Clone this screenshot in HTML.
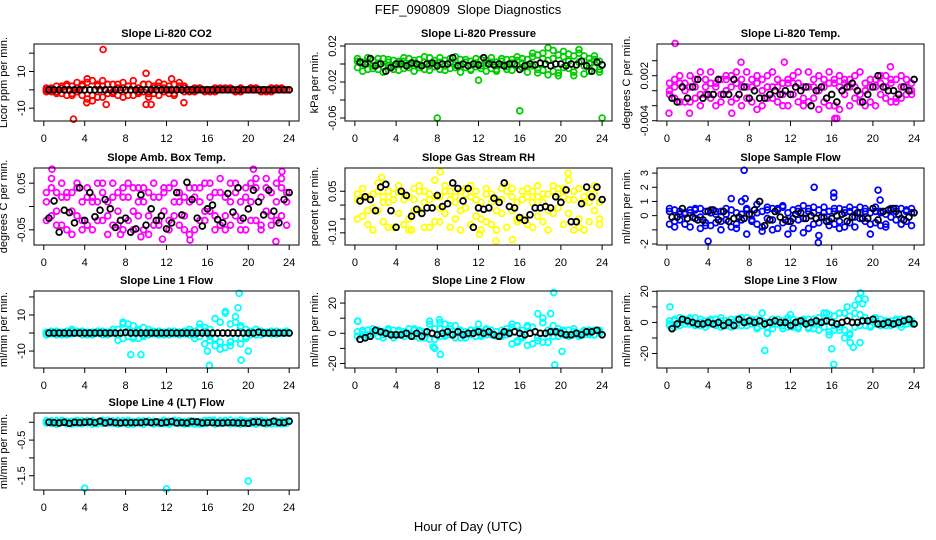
<!DOCTYPE html>
<html><head><meta charset="utf-8"><style>
html,body{margin:0;padding:0;background:#fff;}
svg{display:block;font-family:"Liberation Sans",Arial,sans-serif;}
</style></head><body>
<svg id="chart" width="936" height="540" viewBox="0 0 936 540" xmlns="http://www.w3.org/2000/svg">
<rect x="0" y="0" width="936" height="540" fill="#fff"/>
<text x="468" y="14" font-size="13" text-anchor="middle">FEF_090809&#160; Slope Diagnostics</text>
<text x="468" y="531" font-size="13" text-anchor="middle">Hour of Day (UTC)</text>
</svg>
<script>
const colHours=[0.25,0.75,1.25,1.75,2.25,2.75,3.25,3.75,4.25,4.75,5.25,5.75,6.25,6.75,7.25,7.75,8.25,8.75,9.25,9.75,10.25,10.75,11.25,11.75,12.25,12.75,13.25,13.75,14.25,14.75,15.25,15.75,16.25,16.75,17.25,17.75,18.25,18.75,19.25,19.75,20.25,20.75,21.25,21.75,22.25,22.75,23.25,23.75];
const blackHours=[0.5,1,1.5,2,2.5,3,3.5,4,4.5,5,5.5,6,6.5,7,7.5,8,8.5,9,9.5,10,10.5,11,11.5,12,12.5,13,13.5,14,14.5,15,15.5,16,16.5,17,17.5,18,18.5,19,19.5,20,20.5,21,21.5,22,22.5,23,23.5,24];
const xTicks=[0,4,8,12,16,20,24];

const co2C1=[0,1,-1,2,3,-2,1,-3,4,5,-4,2,3,-2,1,4,-3,2,1,-1,3,-2,4,1,-2,3,2,-1,0,1,0,-1,0,1,0,0,1,-1,0,0,1,0,-1,0,1,0,0,0];
const co2C2=[1,-1,2,-2,-3,2,4,3,-5,-6,3,-4,-2,3,-3,-4,2,-3,-2,3,-4,2,-3,-1,2,-2,1,2,-1,0,1,0,-1,0,1,0,0,-1,1,0,0,1,0,-1,0,1,0,0];
const co2C3=[-1,0,-2,1,2,-3,-1,2,6,-3,2,5,-2,-1,3,1,2,5,-1,3,-2,1,2,3,0,-3,4,1,0,-1,1,0,0,-1,0,1,0,0,-1,0,1,0,0,0,-1,0,1,0];
const co2K=[0,0,0,0,0,0,0,0,0,0,0,0,0,0,0,0,0,0,0,0,0,0,0,0,0,0,0,0,0,0,0,0,0,0,0,0,0,0,0,0,0,0,0,0,0,0,0,0];
const co2OutH=[5.8,2.9,10,10,10.5,13.7,4.2,6.1,12.5];
const co2OutV=[22,-16,9,-8,-8,-7,-7,-8,6];

const prC1=[-.004,.002,-.006,.004,.001,-.003,.005,-.002,.003,-.005,.006,.001,-.004,.002,.007,-.003,-.006,.004,.002,-.001,.005,-.004,.003,.006,-.002,.004,-.005,.002,.006,-.003,.001,.004,-.004,.005,.008,-.006,.012,.004,-.008,.010,.014,-.005,.009,.016,-.002,.006,-.004,.003];
const prC2=[.003,-.008,.002,-.005,.006,-.009,-.002,.004,-.007,.003,-.001,-.008,.005,-.006,-.002,.004,.002,-.007,.006,-.004,-.009,.002,-.006,-.003,.005,-.008,.002,-.006,-.001,.005,-.007,-.002,.006,-.009,-.002,.010,-.007,-.012,.006,-.010,-.004,.011,-.013,.002,.009,-.008,.005,-.006];
const prC3=[.006,.001,.007,-.002,-.006,.006,.002,-.006,.001,.007,-.004,.004,-.001,.008,-.007,.001,.007,-.002,-.005,.008,-.002,.005,-.007,.001,-.005,.001,.007,-.008,.003,-.006,.005,.008,.001,-.002,.012,-.010,.006,.018,.015,-.013,.008,.003,-.009,.012,-.011,.001,.009,-.009];
const prK=[.002,0,.006,-.002,0,-.008,-.004,0,0,-.002,.001,0,-.002,0,.001,-.002,0,0,.007,-.002,0,-.002,0,-.001,.007,0,-.001,0,-.002,0,0,-.006,-.002,0,-.001,.001,0,-.002,0,0,-.002,0,-.001,.003,-.002,-.008,.002,-.001];
const prOutH=[8,16,24,12];
const prOutV=[-.06,-.052,-.06,-.018];

const tpC1=[.001,-.001,.002,0,-.0015,.0005,.0025,-.0005,.001,-.002,.0015,0,.002,-.001,.0005,.0025,-.0015,.001,0,.002,-.001,.0015,-.0005,.001,.002,-.0015,.0005,.0025,-.001,0,.0015,-.002,.001,.002,-.0005,.0015,-.001,.0025,0,-.0015,.0015,-.0005,.002,.001,-.001,.0005,.0015,0];
const tpC2=[-.0005,.0015,-.0015,.001,.0005,-.001,-.0005,.0015,-.001,.0005,-.0005,.0015,-.0015,.001,-.002,.0005,.0015,-.0025,.0015,-.001,.0005,-.0015,.001,-.002,-.0005,.001,-.002,.0005,.0015,-.0025,.0005,.001,-.002,.0005,.0015,-.002,.0005,-.0005,.001,.0015,-.002,.001,-.001,-.0015,.0015,-.001,-.0005,.001];
const tpC3=[0,.0005,.001,-.0015,.002,.0015,-.002,.0005,.0025,.001,-.0015,.002,.0005,.0025,.0015,-.001,.0005,.002,-.002,.0005,.0025,.0005,-.002,.0015,.001,.0025,-.001,-.0015,.0005,.002,-.0015,.0025,.0015,-.0025,.001,.0005,.002,-.0015,-.002,.0005,.0005,.002,.0005,.0015,-.0015,.002,.0005,-.0005];
const tpK=[-.001,-.0015,.0005,-.001,.0005,.0015,-.001,-.0005,-.0005,.0015,-.0005,-.0005,.0015,-.0005,.0005,-.001,0,-.001,-.001,-.0005,0,-.0005,0,-.0005,.0005,0,.0005,-.002,0,.0005,-.001,-.0005,-.0015,0,.0005,.001,0,-.0015,-.0005,.0005,.002,.0005,0,0,-.0005,.0005,0,.0015];
const tpOutH=[0.8,0.2,2.2,16.3,16.5,21.7,7.2,11.4,6.3];
const tpOutV=[.0063,-.003,-.003,-.0037,-.0037,.0032,.0038,.0038,-.003];

const abC1=[.01,-.02,.03,-.04,.02,-.01,.04,-.03,.02,-.05,.01,.03,-.02,.05,-.01,.02,-.03,.04,-.02,.01,.03,-.04,.02,-.01,.04,-.02,.03,-.05,.01,.02,-.03,.05,-.01,.03,-.04,.02,.05,-.02,.01,.04,-.03,.06,.02,-.01,.03,.05,-.02,.01];
const abC2=[-.03,.04,-.01,.02,-.05,.03,-.02,.01,-.04,.02,.05,-.03,.01,-.04,.03,-.05,.02,-.01,.04,-.05,-.02,.02,-.04,.03,-.03,.01,-.04,.02,-.06,.04,.01,-.03,.02,-.05,.03,-.02,-.04,.03,-.05,.02,.05,-.03,-.04,.04,-.02,.01,.04,-.04];
const abC3=[.03,.06,-.04,.05,.03,-.06,.05,-.05,.04,.01,-.03,.05,-.06,.02,-.04,.04,.05,-.05,.01,.04,-.06,.05,-.03,.04,-.05,.05,.01,-.02,.04,-.05,.04,-.01,.05,-.02,.06,-.05,.01,.05,-.03,-.05,.01,.04,-.05,.06,-.04,-.03,.06,.03];
const abK=[-.025,.012,-.055,-.008,-.013,-.035,.04,-.03,.03,-.022,-.008,.015,-.005,-.045,-.03,-.025,-.055,-.048,.025,-.04,-.005,-.03,-.02,-.048,-.035,.03,-.018,.052,.015,-.025,-.042,-.005,.003,-.028,-.035,.028,-.012,.04,-.025,-.005,.035,.01,-.018,.035,-.01,-.035,.015,.03];
const abOutH=[0.8,20.5,23.3,22.7,7.5,11.6,9.5,14.3];
const abOutV=[.08,.08,.075,-.075,-.06,-.07,-.065,-.072];

const rhC1=[.02,-.04,.03,-.01,.05,-.06,.01,.04,-.03,.02,-.05,.06,-.02,.01,.04,-.06,.03,-.03,.02,-.05,.05,-.01,.03,-.04,.01,-.06,.04,.02,-.03,.05,-.02,.01,-.05,.03,.01,-.04,.04,-.02,.05,-.01,.06,-.03,.02,-.05,.03,.04,-.02,.01];
const rhC2=[-.05,.03,-.07,.04,-.02,.03,-.08,.02,.05,-.07,.03,-.02,.05,-.08,.02,.03,-.06,.05,-.08,.03,-.02,.06,-.07,.02,-.05,.04,-.07,-.02,.06,-.08,.03,-.05,.02,-.07,.05,.03,-.06,.04,-.03,.06,-.07,.02,.05,-.08,.01,-.06,.04,-.05];
const rhC3=[.04,.06,-.02,-.09,.08,.01,.05,-.08,.07,.04,-.09,.02,.07,.05,-.08,.09,-.01,.07,.05,.01,-.09,.04,.07,.05,-.09,.06,.01,-.09,.02,.07,.06,-.06,.05,.06,-.08,.07,.01,-.09,.07,.04,.03,.09,-.09,.06,-.09,.01,.07,-.07];
const rhK=[.015,.03,.02,-.02,.065,.075,-.02,-.08,.05,.035,-.04,-.015,-.03,-.01,-.01,.035,-.005,.005,.08,.06,.015,.06,-.08,-.01,-.015,-.01,.025,.01,.08,-.005,-.01,-.045,-.055,-.035,-.01,-.01,-.005,-.01,.03,.01,.055,-.06,-.06,.005,.065,.03,.065,.02];
const rhOutH=[8.3,13.7,15.3,12.1,5.5,20.7,2.6];
const rhOutV=[.12,-.13,-.125,-.105,-.09,.115,.1];

const sfC1=[.3,-.4,.1,-.6,.4,-.2,.5,-.7,.2,-.5,.3,-.3,.4,-.6,.1,.5,-.4,.2,-.8,.6,-.3,.4,-.5,.2,-.9,.5,-.2,.3,-.6,.4,-.1,-.7,.3,-.4,.2,-.5,.4,-.2,.5,-.6,.3,-.7,.1,.4,-.3,.5,-.4,.2];
const sfC2=[-.6,.4,-.3,.2,-.8,.5,-.1,.3,-.7,.1,-.4,.5,-.8,.2,-.3,.4,.1,-.6,.3,-.2,.5,-.9,.6,-.4,.4,-.3,.7,-.9,.2,-.5,.6,.3,-.6,.5,-.8,.3,-.1,.6,-.4,.2,-.5,.3,-.6,-.1,.5,-.2,.3,-.7];
const sfC3=[.5,-.8,.3,.1,.2,.4,-.9,-.5,.4,.3,-1,.1,1.2,-.9,1,-1.3,-.3,.8,-1.1,.4,-1,.5,.7,-1.3,-.2,.3,-1.2,.5,.6,-1.4,.2,-.4,.5,-.9,.4,.6,-.8,.2,.3,-1.3,.6,.2,-.8,.5,.3,-.6,.4,.5];
const sfK=[-.1,-.1,.5,-.2,-.1,-.3,-.3,.3,.4,-.3,.3,-.4,-.2,-.1,-.2,.1,.4,1,-.7,-.3,.3,-.1,-.3,-.4,.1,.2,-.2,0,-.2,-.1,-.4,-.2,0,.1,-.4,-.1,.2,-.2,-.2,.5,-.3,.3,.4,.5,.1,-.3,-.1,.2];
const sfOutH=[7.5,14.3,20.5,16.2,16.2,4,14.7,20.7,7.6];
const sfOutV=[3.2,2,1.8,1.6,1.3,-1.8,-1.9,1.1,1.2];

const l1C1=[0,1,-1,.5,-.5,1,0,-1,.5,-.5,1,-1,.5,0,2,-3,5,-2,1,3,-1,.5,0,-1,1,-.5,.5,0,-1,1,-2,3,-4,-3,6,-8,5,9,-6,2,1,-1,.5,0,1,-.5,.5,0];
const l1C2=[-1,.5,0,-1,1,-.5,.5,1,-1,.5,0,1,-1,.5,-1,6,-2,4,-3,-1,2,-.5,1,.5,-1,1,-.5,1,.5,-1,3,-6,2,-7,-9,11,-5,-3,4,-2,-1,2,-1,.5,-.5,1,0,.5];
const l1C3=[.5,-.5,1,0,-1,2,1,.5,0,-1,1,.5,-.5,2,-4,5,1,-3,2,-2,.5,1,-1,0,.5,1,-1,-.5,2,-3,5,1,-2,8,-5,12,-7,6,3,-3,.5,-1,1,0,.5,-.5,0,1];
const l1K=[0,0,0,0,0,0,0,0,0,0,0,0,0,0,0,.3,0,0,0,0,0,0,0,0,0,0,0,0,0,0,0,0,0,0,0,0,0,0,0,0,0,.5,0,0,0,0,0,0];
const l1OutH=[19.1,16.2,19.3,8.5,9.5,20,16,19];
const l1OutV=[22,-18,-15,-12,-12,-10,-10,14];

const l2C1=[1,-1,2,0,-2,1,3,-1,1,-2,0,2,-3,1,6,-4,7,-2,3,5,-3,1,-1,2,-2,3,-1,1,2,-1,4,-6,-3,5,-7,-5,7,-2,1,3,-1,2,-1,0,1,-1,2,0];
const l2C2=[-2,1,-1,3,1,-3,0,2,-1,1,3,-2,1,-3,-4,3,-2,6,-1,-3,2,-1,2,-2,1,-1,2,-2,-1,3,-7,5,2,-8,4,-3,-6,2,-2,1,2,-1,1,-2,-1,2,-1,1];
const l2C3=[8,2,-2,1,2,-1,2,-3,2,0,-1,3,2,-3,8,-10,3,-1,5,-3,1,-3,2,1,-1,2,0,1,-2,1,6,-5,-2,4,-7,13,10,-6,5,-2,1,-2,3,-1,2,0,-1,2];
const l2K=[-4,-3,-2,2,1,0,-1,-1,-1,0,-2,0,-2,1,0,-1,0,1,-1,1,-1,0,0,1,0,1,-1,-2,1,0,1,0,-1,0,1,0,0,1,1,0,-1,-1,0,-1,1,1,2,-1];
const l2OutH=[19.3,19.4,8.3,20.1,19,8.2,0.3,7.6,12];
const l2OutV=[27,-21,-14,-12,13,9,8,-9,6];

const l3C1=[-2,1,3,-1,2,-2,0,1,-1,2,-3,1,0,-2,1,3,-1,2,-2,0,2,-1,1,-3,-2,1,0,-4,2,-1,-3,5,-2,-5,6,-8,-3,5,-2,1,2,-1,0,-2,1,-1,2,0];
const l3C2=[1,-3,0,2,-1,3,-2,-1,2,-2,1,-1,-3,2,-2,0,2,-4,1,-3,-1,2,-4,1,2,-3,1,2,-4,3,1,-6,4,-3,-10,-7,6,-2,3,-2,-1,2,-2,1,-1,2,-1,1];
const l3C3=[-1,2,-2,1,3,-1,2,-3,1,-1,3,-2,2,-1,3,-2,1,-3,6,-7,-4,2,-2,3,-3,-4,2,-3,-1,-5,6,-8,-5,6,-5,4,11,-13,15,-3,3,-2,1,-1,2,-3,1,-1];
const l3K=[-4,-1,2,1,0,-1,-1,0,-1,0,-2,0,-2,2,0,1,0,1,-1,0,1,0,0,-2,0,1,-1,0,1,0,1,0,-1,0,1,0,0,1,1,2,-1,-1,0,-1,0,1,2,-1];
const l3OutH=[0.3,9.5,16.2,16,18.8,18.6,17.8,18.1,12,15.5,19,17.5];
const l3OutV=[10,-18,-27,-17,19,15,-13,-16,5,6,12,10];

const l4C1=[.02,-.03,.04,-.01,.03,-.05,.01,.04,-.02,.03,-.04,.02,.05,-.03,.01,.04,-.06,.02,-.02,.04,-.01,.03,-.04,.02,.03,-.02,.04,-.05,.01,.03,-.03,.05,-.01,.02,.04,-.02,.06,-.04,.01,.03,-.03,.04,-.02,.01,-.04,.03,-.01,.02];
const l4C2=[-.02,.04,-.05,.03,-.04,.02,-.03,-.02,.04,-.05,.01,-.03,-.02,.04,-.05,-.01,.03,-.05,.04,-.04,.03,-.05,.02,-.04,-.05,.04,-.03,.02,-.04,-.05,.02,-.04,.03,-.05,-.03,.04,-.02,.03,-.05,-.04,.04,-.03,.03,-.05,.02,-.04,.04,-.03];
const l4C3=[.04,.01,-.02,.05,-.03,.03,.05,-.04,.01,.04,-.01,.05,-.03,.02,.04,-.02,.05,-.03,.01,-.05,.04,.01,-.03,.05,-.01,.05,.02,-.03,.04,.01,-.05,.02,.05,-.03,.02,.05,-.04,.02,.06,-.03,.02,-.05,.05,.03,.02,-.01,-.04,.04];
const l4K=[0,-.01,-.02,0,-.03,0,-.01,0,.01,-.01,.03,-.02,.01,-.01,-.02,-.01,-.01,-.01,-.01,.01,-.01,.01,-.02,0,.02,-.02,-.01,-.02,.02,.01,-.02,-.01,-.01,-.02,-.02,-.01,-.01,-.02,-.02,-.03,.01,.01,-.02,-.01,.03,-.01,-.01,.03];
const l4OutH=[4,12,20,16.6];
const l4OutV=[-1.85,-1.87,-1.65,.06];

const co2Ticks=[20,10,0,-10], co2Labels=["","10","","-10"];
const prTicks=[0.02,0,-0.02,-0.04,-0.06], prLabels=["0.02","","-0.02","","-0.06"];
const tpTicks=[0.004,0.002,0,-0.002,-0.004], tpLabels=["","0.002","","","-0.004"];
const abTicks=[0.05,0,-0.05], abLabels=["0.05","","-0.05"];
const rhTicks=[0.05,0,-0.05,-0.10], rhLabels=["0.05","","","-0.10"];
const sfTicks=[3,2,1,0,-1,-2], sfLabels=["3","2","1","0","","-2"];
const l1Ticks=[20,10,0,-10], l1Labels=["","10","","-10"];
const l2Ticks=[20,10,0,-10,-20], l2Labels=["20","","0","","-20"];
const l3Ticks=[20,10,0,-10,-20], l3Labels=["20","","0","","-20"];
const l4Ticks=[0,-0.5,-1,-1.5], l4Labels=["","-0.5","","-1.5"];

const NS="http://www.w3.org/2000/svg";
const svg=document.getElementById('chart');
const colX=[[34,299],[345,612],[657,924]];
const rowY=[44,168,291,413];
const BH=77;
const panels=[
 {name:"co2",title:"Slope Li-820 CO2",ylab:"Licor ppm per min.",col:0,row:0,yt:25,yb:-17,color:"#ff0000",c:[co2C1,co2C2,co2C3],k:co2K,oh:co2OutH,ov:co2OutV,ticks:co2Ticks,labels:co2Labels},
 {name:"pressure",title:"Slope Li-820 Pressure",ylab:"kPa per min.",col:1,row:0,yt:0.0222,yb:-0.0633,color:"#00cd00",c:[prC1,prC2,prC3],k:prK,oh:prOutH,ov:prOutV,ticks:prTicks,labels:prLabels},
 {name:"licor-temp",title:"Slope Li-820 Temp.",ylab:"degrees C per min.",col:2,row:0,yt:0.00623,yb:-0.00404,color:"#ff00ff",c:[tpC1,tpC2,tpC3],k:tpK,oh:tpOutH,ov:tpOutV,ticks:tpTicks,labels:tpLabels},
 {name:"amb-box-temp",title:"Slope Amb. Box Temp.",ylab:"degrees C per min.",col:0,row:1,yt:0.0826,yb:-0.0826,color:"#ff00ff",c:[abC1,abC2,abC3],k:abK,oh:abOutH,ov:abOutV,ticks:abTicks,labels:abLabels},
 {name:"gas-stream-rh",title:"Slope Gas Stream RH",ylab:"percent per min.",col:1,row:1,yt:0.134,yb:-0.144,color:"#ffff00",c:[rhC1,rhC2,rhC3],k:rhK,oh:rhOutH,ov:rhOutV,ticks:rhTicks,labels:rhLabels},
 {name:"sample-flow",title:"Slope Sample Flow",ylab:"ml/min per min.",col:2,row:1,yt:3.36,yb:-2.07,color:"#0000ff",c:[sfC1,sfC2,sfC3],k:sfK,oh:sfOutH,ov:sfOutV,ticks:sfTicks,labels:sfLabels},
 {name:"line1-flow",title:"Slope Line 1 Flow",ylab:"ml/min per min.",col:0,row:2,yt:23.3,yb:-19.4,color:"#00ffff",c:[l1C1,l1C2,l1C3],k:l1K,oh:l1OutH,ov:l1OutV,ticks:l1Ticks,labels:l1Labels},
 {name:"line2-flow",title:"Slope Line 2 Flow",ylab:"ml/min per min.",col:1,row:2,yt:28,yb:-23,color:"#00ffff",c:[l2C1,l2C2,l2C3],k:l2K,oh:l2OutH,ov:l2OutV,ticks:l2Ticks,labels:l2Labels},
 {name:"line3-flow",title:"Slope Line 3 Flow",ylab:"ml/min per min.",col:2,row:2,yt:20.2,yb:-29.3,color:"#00ffff",c:[l3C1,l3C2,l3C3],k:l3K,oh:l3OutH,ov:l3OutV,ticks:l3Ticks,labels:l3Labels},
 {name:"line4-flow",title:"Slope Line 4 (LT) Flow",ylab:"ml/min per min.",col:0,row:3,yt:0.26,yb:-1.9,color:"#00ffff",c:[l4C1,l4C2,l4C3],k:l4K,oh:l4OutH,ov:l4OutV,ticks:l4Ticks,labels:l4Labels}
];
function mk(tag,attrs,parent){const e=document.createElementNS(NS,tag);for(const a in attrs)e.setAttribute(a,attrs[a]);(parent||svg).appendChild(e);return e;}
panels.forEach(p=>{
 const L=colX[p.col][0],R=colX[p.col][1],T=rowY[p.row],B=T+BH;
 const xs=h=>L+(h+0.96)/25.92*(R-L);
 const ys=v=>T+(p.yt-v)/(p.yt-p.yb)*BH;
 const g=mk('g',{});
 
 
 const t=mk('text',{x:(L+R)/2,y:T-7,'font-size':11,'font-weight':'bold','text-anchor':'middle'},g);
 t.textContent=p.title;
 
 
 const cx=L-27,cy=(T+B)/2;
 const yl=mk('text',{x:cx,y:cy,'font-size':11,'text-anchor':'middle',transform:`rotate(-90 ${cx} ${cy})`},g);
 yl.textContent=p.ylab;
 
 
 const pts=mk('g',{fill:'none','stroke-width':1.8},g);
 
 
 p.c.forEach(arr=>{arr.forEach((v,i)=>{
  const c=mk('circle',{cx:xs(colHours[i]),cy:ys(v),r:2.9,stroke:p.color},pts);
  
  
 });});
 p.oh.forEach((h,i)=>{
  const c=mk('circle',{cx:xs(h),cy:ys(p.ov[i]),r:2.9,stroke:p.color},pts);
  
  
 });
 p.k.forEach((v,i)=>{
  const c=mk('circle',{cx:xs(blackHours[i]),cy:ys(v),r:2.9,stroke:'#000'},pts);
  
  
 });
 const box=mk('rect',{x:L,y:T,width:R-L,height:BH,fill:'none',stroke:'#000','stroke-width':1},g);
 
 
 xTicks.forEach(h=>{
  const x=xs(h);
  const tk=mk('line',{x1:x,x2:x,y1:B,y2:B+5,stroke:'#000'},g);
  
  
  const lb=mk('text',{x:x,y:B+21,'font-size':11,'text-anchor':'middle'},g);
  lb.textContent=String(h);
  
  
 });
 p.ticks.forEach((v,i)=>{
  const y=ys(v);
  const tk=mk('line',{x1:L-5,x2:L,y1:y,y2:y,stroke:'#000'},g);
  
  
  if(p.labels[i]){
   const lx=L-9;
   const lb=mk('text',{x:lx,y:y,'font-size':11,'text-anchor':'middle',transform:`rotate(-90 ${lx} ${y})`},g);
   lb.textContent=p.labels[i];
   
   
  }
 });
});
</script>
</body></html>
